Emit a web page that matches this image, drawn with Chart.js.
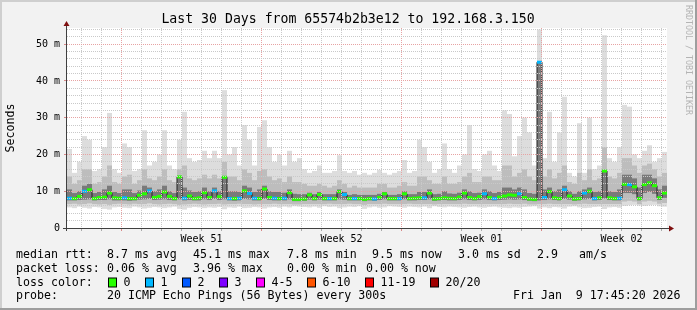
<!DOCTYPE html>
<html>
<head>
<meta charset="utf-8">
<script src="https://cdn.jsdelivr.net/npm/chart.js@4.4.1/dist/chart.umd.min.js"></script>
<style>
html,body{margin:0;padding:0;background:#f0f0f0;}
canvas{display:block;}
</style>
</head>
<body>
<canvas id="c" width="697" height="310" style="width:697px;height:310px"></canvas>
<script>
// ---------------- data ----------------
const TITLE = 'Last 30 Days from 65574b2b3e12 to 192.168.3.150';
const Y_TITLE = 'Seconds';
const WATERMARK = 'RRDTOOL / TOBI OETIKER';
const SPAN_DAYS = 30;
const SLOTS_PER_DAY = 4;

// median RTT per slot (ms)
const medianMs = [
  8.1, 8.0, 8.6, 10.0, 10.4, 8.0, 8.3, 8.4, 9.5, 8.2,
  8.1, 8.2, 8.0, 8.0, 8.9, 9.3, 10.1, 8.3, 8.6, 9.8,
  8.6, 8.0, 13.9, 8.1, 8.7, 8.0, 8.2, 9.6, 8.3, 10.1,
  8.5, 13.8, 8.0, 8.0, 8.1, 10.1, 9.4, 8.1, 8.0, 10.6,
  8.3, 8.1, 8.0, 8.1, 9.6, 7.8, 7.8, 7.9, 9.0, 8.0,
  9.1, 8.0, 8.0, 8.0, 9.9, 9.1, 8.0, 8.0, 8.0, 7.8,
  8.0, 7.9, 8.3, 9.3, 8.0, 8.0, 8.0, 9.3, 8.0, 8.1,
  8.2, 8.2, 9.5, 7.9, 8.0, 8.2, 8.1, 8.0, 8.4, 9.5,
  8.3, 8.0, 8.5, 9.3, 8.3, 8.0, 8.4, 8.7, 9.0, 8.9,
  9.3, 8.3, 7.9, 7.8, 45.1, 8.3, 9.9, 8.2, 8.0, 10.4,
  8.7, 7.9, 8.0, 9.5, 10.0, 8.0, 8.2, 15.5, 8.2, 8.0,
  8.1, 11.9, 11.8, 11.2, 8.0, 11.8, 12.3, 11.5, 8.2, 9.5
];
// lost pings per slot (index into lossColors)
const lossIdx = [
  1,0,0,1,0,0,0,0,0,0,
  0,1,0,0,0,0,1,0,0,0,
  0,0,0,1,0,0,0,0,0,1,
  0,0,1,0,1,0,1,1,0,0,
  0,1,0,1,0,0,0,0,0,0,
  0,0,1,0,0,1,0,1,0,0,
  0,1,0,0,0,0,1,0,0,0,
  0,1,0,0,0,0,0,0,0,0,
  0,0,0,1,0,1,0,0,0,0,
  1,0,0,0,1,1,0,0,0,1,
  0,0,0,1,0,1,0,0,0,0,
  1,0,1,0,0,0,0,0,0,0
];
// smoke: fastest ping (ms)
const smokeMin = [
  5.6,5.4,5.8,5.5,5.3,5.7,5.6,5.2,5.0,5.6,
  5.7,5.5,5.4,5.8,5.6,5.3,5.5,5.7,5.6,5.4,
  5.6,5.8,5.2,5.0,5.5,5.7,5.6,5.4,5.6,5.5,
  5.7,5.1,5.6,5.5,5.8,5.4,5.5,5.7,5.6,5.3,
  5.6,5.7,5.5,5.8,5.6,5.9,5.8,5.7,5.6,5.8,
  5.5,5.9,5.7,5.8,5.4,5.6,5.8,5.7,5.9,5.2,
  5.6,5.8,5.5,5.6,5.9,5.8,5.7,5.5,5.8,5.7,
  5.6,5.8,5.4,5.9,5.7,5.6,5.8,5.7,5.6,5.5,
  5.7,5.8,5.6,5.5,5.7,5.8,5.6,5.5,5.4,5.6,
  5.5,5.7,5.8,5.9,5.3,5.6,5.4,5.7,5.6,5.3,
  5.8,5.9,5.6,5.4,5.5,5.7,5.8,5.2,5.6,5.7,
  5.5,6.0,6.2,6.3,6.1,6.0,6.2,6.3,5.9,5.8
];
// smoke: lower edge of the medium-grey part (ms)
const smokeLow = [
  6.5,6.6,6.4,6.5,6.7,6.5,6.4,6.5,6.3,6.5,
  6.6,6.5,6.4,6.6,6.5,6.5,6.7,6.5,6.4,6.5,
  6.6,6.5,6.3,6.4,6.5,6.6,6.5,6.4,6.5,6.5,
  6.6,6.4,6.5,6.5,6.6,6.5,6.5,6.4,6.5,6.5,
  6.5,6.6,6.5,6.5,6.5,6.4,6.4,6.5,6.5,6.5,
  6.5,6.5,6.6,6.5,6.5,6.5,6.6,6.5,6.5,6.3,
  6.5,6.5,6.5,6.6,6.5,6.5,6.5,6.5,6.6,6.5,
  6.5,6.5,6.5,6.4,6.5,6.5,6.5,6.5,6.5,6.6,
  6.5,6.5,6.5,6.5,6.5,6.5,6.5,6.5,6.6,6.5,
  6.5,6.6,6.4,6.4,6.5,6.5,6.6,6.5,6.5,6.5,
  6.5,6.4,6.5,6.6,6.5,6.5,6.5,6.5,6.5,6.5,
  6.5,7.2,7.4,7.2,6.5,7.2,7.4,7.2,6.6,6.8
];
// smoke: lower edge of the dark core (ms)
const smokeCoreLo = [
  7.5,7.5,7.6,7.7,7.8,7.5,7.6,7.6,7.8,7.5,
  7.5,7.5,7.4,7.5,7.7,7.8,7.9,7.6,7.7,7.8,
  7.6,7.5,7.8,7.5,7.6,7.5,7.5,7.8,7.6,7.9,
  7.6,7.8,7.5,7.4,7.5,7.9,7.8,7.5,7.5,7.9,
  7.6,7.5,7.5,7.5,7.8,7.3,7.3,7.4,7.7,7.5,
  7.7,7.5,7.5,7.5,7.8,7.7,7.5,7.5,7.5,7.3,
  7.5,7.4,7.6,7.8,7.5,7.5,7.5,7.8,7.5,7.5,
  7.6,7.6,7.8,7.4,7.5,7.6,7.5,7.5,7.6,7.8,
  7.6,7.5,7.6,7.8,7.6,7.5,7.6,7.7,7.8,7.7,
  7.8,7.6,7.4,7.3,7.5,7.6,7.8,7.6,7.5,7.9,
  7.7,7.4,7.5,7.8,7.9,7.5,7.6,8.0,7.6,7.5,
  7.5,9.5,9.5,9.2,7.5,9.5,9.8,9.3,7.6,8.2
];
// smoke: top of the dark core (ms)
const smokeMid = [
  10.5,9.5,10,11.5,12,9.5,9.8,10.5,11.5,9.8,
  9.5,10.5,10.5,9.5,10.2,11.5,11,10,10.5,11.5,
  10,9.5,13.9,11,10.2,9.8,10,11,10,11,
  10,13.8,10,10,9.8,11.5,11,9.8,10.5,11.5,
  10,9.8,9.8,9.6,10.5,9.3,9.2,9.2,9.6,9.2,
  9.8,9.2,9.2,9.2,10.5,9.8,9,9.2,9,9,
  9,9,9.3,9.8,9,9,9.2,10,9.2,9.2,
  9.8,9.8,10.5,9.2,9.3,10,9.4,9.3,9.6,10.5,
  10,9.5,9.6,10.5,10,9.5,9.8,11,11,10.5,
  11,10.5,9.5,9.3,45.1,10.5,11,10,10.5,11.5,
  10,9.3,10,10.5,11,9.8,10,15.5,10,9.8,
  10.5,14.5,14.5,13.5,11,14.5,14.5,13.5,10.5,11.5
];
// smoke: top of the medium-grey part (ms)
const smokeHigh = [
  14,12,13,16,16,12,12.5,14,17,12.5,
  12,14,14.5,12,13,16,13.5,13,14,16,
  13,12.5,16,17,13.5,13,13.5,14.5,13.5,14.5,
  13.5,18,14,14,13,16,15,13,15.5,16,
  14,13,13.5,12.5,14,12.5,12.5,12,11.5,11.5,
  12,11.5,11,11.5,13,12,11,11.5,11,11,
  11,11,12,12,11,11,11.5,12.5,11.5,11.5,
  14,14,13,12,12,14,12,12,12.5,14,
  15,12.5,12.5,14,14,13,13,17,17,14,
  15,16,14,13,30,14,16,13.5,15,17,
  12.5,12,15,13,16,13,13.5,22,14,13.5,
  15,19,19,17,15,17,17.5,16,14,15
];
// smoke: slowest ping (ms)
const smokeMax = [
  21.5,15,18,25,24,15.5,16,22,31.3,16,
  15,23,22,15.5,16,26.6,17,18,20,26.6,
  17,16,24,31.6,19,18,18.5,21,19,21,
  19,37.5,20,22,17,28,24,17,27.5,29.3,
  22,18,20,17,21,18,19,16,15,15.5,
  17,15,15,15.5,19.8,15.5,15,15.5,14.5,15,
  14.5,15,15.8,15,14.5,15,15.5,18.5,15,15.5,
  24,22,18,15,16,23,16,15,17,20,
  28,16,15.5,20,21,17,15.5,32,31,19.5,
  25,30,26,17,54,19,31.6,18,26,35.7,
  15,14,28.5,15,30,16,17,52.4,19,18,
  22,33.5,33,20,19,21,22.5,18,19,20.7
];

// axis ticks
const yGridMs = [0,2,4,6,8,10,12,14,16,18,20,22,24,26,28,30,32,34,36,38,40,42,44,46,48,50,52,54];
const Y_MAX = 54.4;
const dayGridDays = [0.225,1.225,2.225,3.225,4.225,5.225,6.225,7.225,8.225,9.225,10.225,11.225,12.225,13.225,14.225,15.225,16.225,17.225,18.225,19.225,20.225,21.225,22.225,23.225,24.225,25.225,26.225,27.225,28.225,29.225];
const weekLabels = ['Week 51','Week 52','Week 01','Week 02'];
const weekLabelDays = [6.725,13.725,20.725,27.725];

// legend texts
const rttStats = ['8.7 ms avg','45.1 ms max','7.8 ms min','9.5 ms now','3.0 ms sd','2.9','am/s'];
const lossStats = ['0.06 % avg','3.96 % max','0.00 % min','0.00 % now'];
const lossLabels = ['0','1','2','3','4-5','6-10','11-19','20/20'];
const lossColors = ['#26ff00','#00b8ff','#0059ff','#7e00ff','#ff00ff','#ff5500','#ff0000','#a10000'];
const probeText = '20 ICMP Echo Pings (56 Bytes) every 300s';
const stampText = 'Fri Jan  9 17:45:20 2026';

// ---------------- chart ----------------
const MONO = '"DejaVu Sans Mono", "Liberation Mono", monospace';
const slotX = i => (i + 0.5) / SLOTS_PER_DAY;
const band = (lo, hi) => lo.map((v, i) => ({x: slotX(i), y: [v, hi[i]]}));
const pts = arr => arr.map((v, i) => ({x: slotX(i), y: v}));

const MINOR = '#c9c9c9';
const MAJOR = '#e7a3a3';

const rrdPlugin = {
  id: 'rrd',
  beforeDraw(chart) {
    const {ctx, chartArea: a, width: W, height: H} = chart;
    ctx.save();
    ctx.fillStyle = '#f2f2f2';
    ctx.fillRect(0, 0, W, H);
    ctx.fillStyle = '#cfcfcf';
    ctx.fillRect(0, 0, W, 2);
    ctx.fillRect(0, 0, 2, H);
    ctx.fillStyle = '#9e9e9e';
    ctx.fillRect(0, H - 2, W, 2);
    ctx.fillRect(W - 2, 0, 2, H);
    ctx.fillStyle = '#ffffff';
    ctx.fillRect(a.left, a.top, a.right - a.left, a.bottom - a.top);
    ctx.restore();
  },
  afterDraw(chart) {
    const {ctx, chartArea: a} = chart;
    ctx.save();
    // axes
    ctx.strokeStyle = '#404040';
    ctx.lineWidth = 1;
    ctx.beginPath();
    ctx.moveTo(a.left - 4, a.bottom + 0.5);
    ctx.lineTo(a.right + 3, a.bottom + 0.5);
    ctx.moveTo(a.left - 0.5, a.bottom + 3);
    ctx.lineTo(a.left - 0.5, a.top - 4);
    ctx.stroke();
    // arrows
    ctx.fillStyle = '#7f1010';
    ctx.beginPath();
    ctx.moveTo(a.left - 3.5, a.top - 2);
    ctx.lineTo(a.left + 2.5, a.top - 2);
    ctx.lineTo(a.left - 0.5, a.top - 7);
    ctx.closePath();
    ctx.fill();
    ctx.beginPath();
    ctx.moveTo(a.right + 2, a.bottom - 2.5);
    ctx.lineTo(a.right + 2, a.bottom + 3.5);
    ctx.lineTo(a.right + 7, a.bottom + 0.5);
    ctx.closePath();
    ctx.fill();

    // title
    ctx.fillStyle = '#000';
    ctx.textBaseline = 'middle';
    ctx.textAlign = 'center';
    ctx.font = '13.2px ' + MONO;
    ctx.fillText(TITLE, 348, 19.5);

    // y title
    ctx.save();
    ctx.translate(10.5, 128);
    ctx.rotate(-Math.PI / 2);
    ctx.font = '11.6px ' + MONO;
    ctx.fillText(Y_TITLE, 0, 0);
    ctx.restore();

    // watermark
    ctx.save();
    ctx.translate(688.5, 60);
    ctx.rotate(Math.PI / 2);
    ctx.fillStyle = '#b4b4b4';
    ctx.font = '8.3px ' + MONO;
    ctx.fillText(WATERMARK, 0, 0);
    ctx.restore();

    // legend
    ctx.textAlign = 'left';
    ctx.font = '11.6px ' + MONO;
    ctx.fillStyle = '#000';
    const rows = [254.5, 268.5, 282.5, 296.3];
    ctx.fillText('median rtt:', 16, rows[0]);
    const rttX = [107, 193, 287, 372, 458, 537, 579];
    rttStats.forEach((t, i) => ctx.fillText(t, rttX[i], rows[0]));
    ctx.fillText('packet loss:', 16, rows[1]);
    const lossX = [107, 193, 287, 366];
    lossStats.forEach((t, i) => ctx.fillText(t, lossX[i], rows[1]));
    ctx.fillText('loss color:', 16, rows[2]);
    const boxX = [108.5, 145.5, 182.5, 219.5, 256.5, 307.5, 365.5, 430.5];
    lossLabels.forEach((t, i) => {
      ctx.fillStyle = lossColors[i];
      ctx.fillRect(boxX[i], rows[2] - 4.5, 8, 9);
      ctx.strokeStyle = '#000';
      ctx.lineWidth = 1;
      ctx.strokeRect(boxX[i], rows[2] - 4.5, 8, 9);
      ctx.fillStyle = '#000';
      ctx.fillText(t, boxX[i] + 15, rows[2]);
    });
    ctx.fillText('probe:', 16, rows[3]);
    ctx.fillText(probeText, 107, rows[3]);
    ctx.fillText(stampText, 513, rows[3]);
    ctx.restore();
  }
};

const barCommon = {
  type: 'bar', grouped: false, barPercentage: 1, categoryPercentage: 1,
  borderWidth: 0, inflateAmount: 0
};

new Chart(document.getElementById('c'), {
  type: 'bar',
  data: {
    datasets: [
      Object.assign({label: 'smoke outer', data: band(smokeMin, smokeMax), backgroundColor: '#dddddd', order: 6}, barCommon),
      Object.assign({label: 'smoke mid', data: band(smokeLow, smokeHigh), backgroundColor: '#bdbdbd', order: 5}, barCommon),
      Object.assign({label: 'smoke core', data: band(smokeCoreLo, smokeMid), backgroundColor: '#7a7a7a', order: 4}, barCommon),
      {type: 'line', label: 'median', data: pts(medianMs), stepped: 'middle', borderColor: '#202020',
       borderWidth: 1, pointRadius: 0, fill: false, order: 2},
      {type: 'line', label: 'loss', data: pts(medianMs), showLine: false, pointStyle: 'line',
       pointRadius: 2.5, pointHoverRadius: 2.5, pointBorderWidth: 3, pointHoverBorderWidth: 3,
       pointBorderColor: lossIdx.map(k => lossColors[k]), pointBackgroundColor: lossIdx.map(k => lossColors[k]), order: 1}
    ]
  },
  options: {
    responsive: false,
    devicePixelRatio: 1,
    animation: false,
    events: [],
    layout: {padding: {left: 0, right: 30, top: 28, bottom: 62}},
    plugins: {legend: {display: false}, tooltip: {enabled: false}, title: {display: false}},
    scales: {
      x: {
        type: 'linear', min: 0, max: SPAN_DAYS, position: 'bottom', offset: false,
        afterBuildTicks: s => { s.ticks = dayGridDays.map(v => ({value: v})); },
        afterFit: s => { s.height = 0; },
        ticks: {display: false, autoSkip: false},
        border: {display: false, dash: [1, 1]},
        grid: {
          z: 1, lineWidth: 1, drawTicks: true, tickLength: 3,
          color: c => (c.index % 7 === 3 ? MAJOR : MINOR),
          tickColor: c => (c.index % 7 === 3 ? '#d88a8a' : '#aaaaaa')
        }
      },
      xl: {
        type: 'linear', min: 0, max: SPAN_DAYS, position: 'bottom', offset: false,
        afterBuildTicks: s => { s.ticks = weekLabelDays.map(v => ({value: v})); },
        afterFit: s => { s.height = 20; },
        ticks: {autoSkip: false, maxRotation: 0, padding: 5.5, color: '#000',
                font: {family: MONO, size: 10},
                callback: (v, i) => weekLabels[i]},
        border: {display: false},
        grid: {display: false, drawTicks: false}
      },
      y: {
        type: 'linear', min: 0, max: Y_MAX, position: 'left',
        afterBuildTicks: s => { s.ticks = yGridMs.map(v => ({value: v})); },
        afterFit: s => { s.width = 67; },
        ticks: {autoSkip: false, padding: 4, color: '#000', font: {family: MONO, size: 10},
                callback: v => (v % 10 === 0 ? (v === 0 ? '0' : (v + ' m')) : '')},
        border: {display: false, dash: [1, 1]},
        grid: {
          z: 1, lineWidth: 1, drawTicks: true, tickLength: 3,
          color: c => (c.tick && c.tick.value % 10 === 0 ? MAJOR : MINOR),
          tickColor: c => (c.tick && c.tick.value % 10 === 0 ? '#d88a8a' : 'rgba(0,0,0,0)')
        }
      }
    }
  },
  plugins: [rrdPlugin]
});
</script>
</body>
</html>
